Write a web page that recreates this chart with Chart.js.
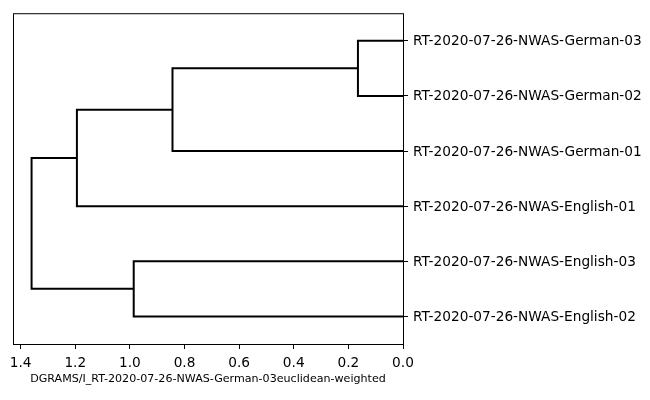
<!DOCTYPE html>
<html>
<head>
<meta charset="utf-8">
<script src="https://cdn.jsdelivr.net/npm/chart.js@4/dist/chart.umd.min.js"></script>
<style>
    html, body { margin: 0; padding: 0; background: #fff; }
    #wrap { width: 650px; height: 400px; }
</style>
</head>
<body>
<div id="wrap"><canvas id="dendro" width="650" height="400"></canvas></div>
<script>
// leaves from bottom to top, as scipy places them
const leafLabels = [
    'RT-2020-07-26-NWAS-English-02',
    'RT-2020-07-26-NWAS-English-03',
    'RT-2020-07-26-NWAS-English-01',
    'RT-2020-07-26-NWAS-German-01',
    'RT-2020-07-26-NWAS-German-02',
    'RT-2020-07-26-NWAS-German-03'
];
const leafPos = [5, 15, 25, 35, 45, 55];

// link coordinates (icoord = leaf axis, dcoord = distance)
const icoord = [
    [45, 45, 55, 55],
    [35, 35, 50, 50],
    [25, 25, 42.5, 42.5],
    [5, 5, 15, 15],
    [10, 10, 33.75, 33.75]
];
const dcoord = [
    [0, 0.165, 0.165, 0],
    [0, 0.844, 0.844, 0.165],
    [0, 1.194, 1.194, 0.844],
    [0, 0.986, 0.986, 0],
    [0.986, 1.36, 1.36, 1.194]
];

const distTicks = [0, 0.2, 0.4, 0.6, 0.8, 1.0, 1.2, 1.4];
const xTitle = 'DGRAMS/I_RT-2020-07-26-NWAS-German-03euclidean-weighted';

const maxDist = Math.max(...dcoord.flat()) * 1.05;

const datasets = icoord.map((ys, i) => ({
    data: ys.map((y, j) => ({ x: dcoord[i][j], y: y })),
    showLine: true,
    borderColor: '#000',
    borderWidth: 2,
    pointRadius: 0,
    tension: 0
}));

// frame around the plot area (top and left sides are not axes)
const framePlugin = {
    id: 'frame',
    afterDraw(chart) {
        const { ctx, chartArea: a } = chart;
        ctx.save();
        ctx.strokeStyle = '#000';
        ctx.lineWidth = 1;
        ctx.strokeRect(a.left + 0.5, a.top + 0.5, a.right - a.left, a.bottom - a.top);
        ctx.restore();
    }
};

const font = { family: 'DejaVu Sans', size: 13.7 };

new Chart(document.getElementById('dendro').getContext('2d'), {
    type: 'scatter',
    data: { datasets },
    options: {
        responsive: false,
        animation: false,
        layout: { padding: { left: 13, top: 12, right: 0, bottom: 0 } },
        plugins: {
            legend: { display: false },
            tooltip: { enabled: false }
        },
        scales: {
            x: {
                type: 'linear',
                min: 0,
                max: maxDist,
                reverse: true,
                afterBuildTicks: s => { s.ticks = distTicks.map(v => ({ value: v })); },
                afterFit: s => { s.height = 56; },
                grid: { drawOnChartArea: false, tickLength: 5, tickColor: '#000' },
                border: { display: false },
                ticks: {
                    color: '#000',
                    font,
                    padding: 6,
                    maxRotation: 0,
                    callback: v => v.toFixed(1)
                },
                title: {
                    display: true,
                    text: xTitle,
                    color: '#000',
                    font: { family: 'DejaVu Sans', size: 11.1 },
                    padding: { top: 0, bottom: 14 }
                }
            },
            y: {
                type: 'linear',
                position: 'right',
                min: 0,
                max: 60,
                afterBuildTicks: s => { s.ticks = leafPos.map(v => ({ value: v })); },
                afterFit: s => { s.width = 247; },
                grid: { drawOnChartArea: false, tickLength: 5, tickColor: '#000' },
                border: { display: false },
                ticks: {
                    color: '#000',
                    font,
                    padding: 5,
                    labelOffset: 1,
                    callback: v => leafLabels[leafPos.indexOf(v)]
                }
            }
        }
    },
    plugins: [framePlugin]
});
</script>
</body>
</html>
